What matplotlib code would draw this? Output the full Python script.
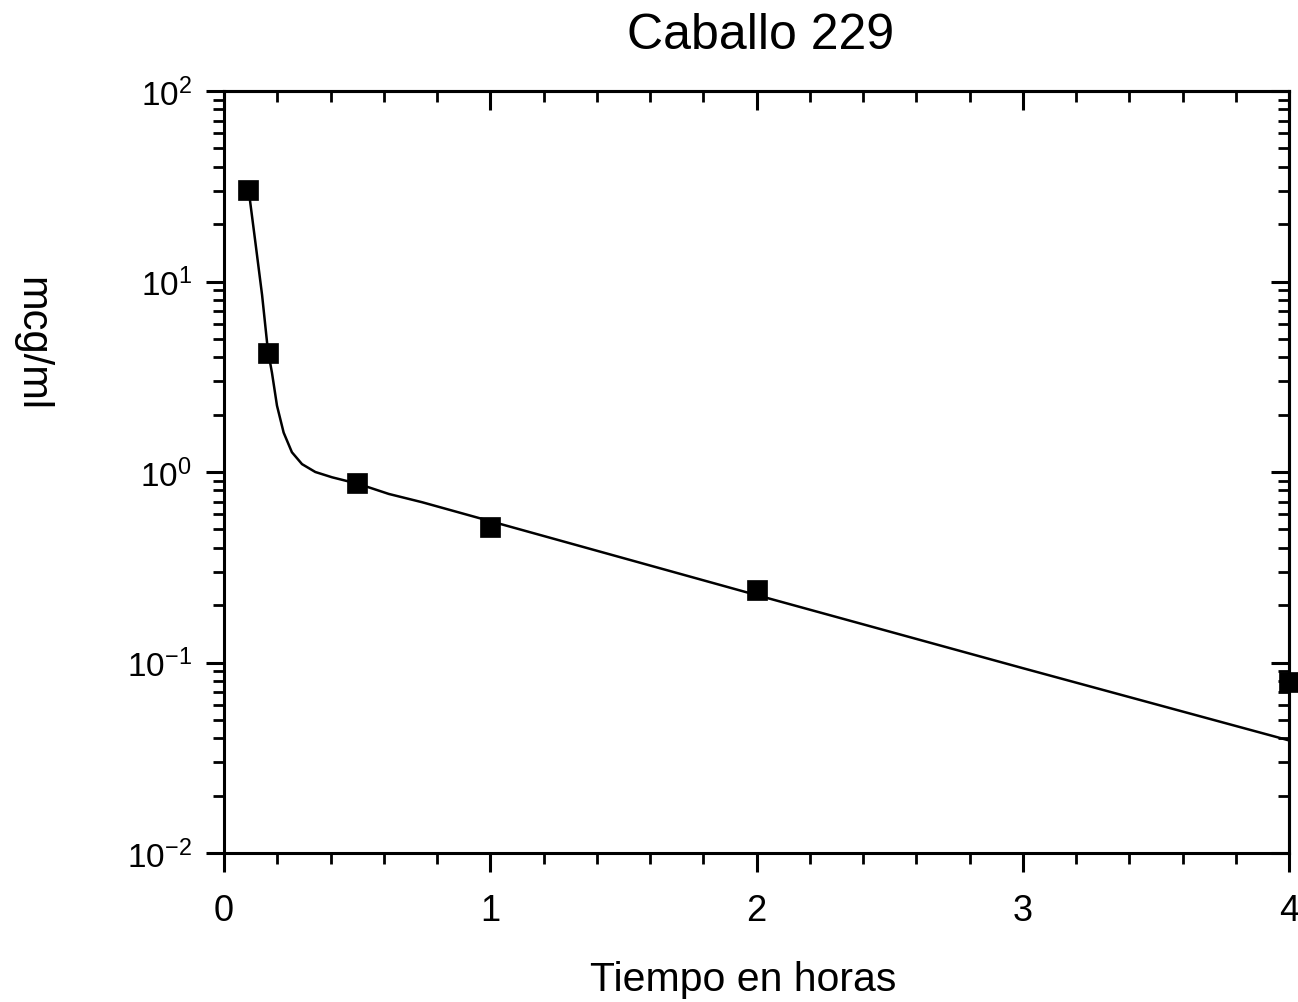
import matplotlib
matplotlib.use("Agg")
import matplotlib.pyplot as plt
from matplotlib.ticker import LogLocator, MultipleLocator, LogFormatterSciNotation, NullFormatter

# Observed concentrations (mcg/ml) vs time (hours)
time_obs = [0.09, 0.167, 0.5, 1.0, 2.0, 4.0]
conc_obs = [30.3, 4.2, 0.874, 0.513, 0.240, 0.0788]

# Fitted curve
time_fit = [0.093, 0.118, 0.143, 0.165, 0.180, 0.199, 0.224, 0.255, 0.293,
            0.343, 0.406, 0.506, 0.619, 0.744, 1.0, 2.0, 3.0, 4.0]
conc_fit = [29.9, 16.0, 8.5, 4.33, 3.33, 2.23, 1.61, 1.27, 1.10,
            1.00, 0.938, 0.865, 0.767, 0.694, 0.552, 0.226, 0.0934, 0.039]

x_ticks = [0, 1, 2, 3, 4]
title = "Caballo 229"
xlabel = "Tiempo en horas"
ylabel = "mcg/ml"

plt.rcParams['font.family'] = ['Liberation Sans', 'DejaVu Sans']
plt.rcParams['mathtext.fontset'] = 'custom'
plt.rcParams['mathtext.rm'] = 'Liberation Sans'
plt.rcParams['mathtext.it'] = 'Liberation Sans:italic'
plt.rcParams['mathtext.bf'] = 'Liberation Sans:bold'

W, H = 1298, 1003
fig = plt.figure(figsize=(W / 100, H / 100), dpi=100)
x0, x1, ytop, ybot = 224, 1289, 92, 854
ax = fig.add_axes([x0 / W, 1 - ybot / H, (x1 - x0) / W, (ybot - ytop) / H])

ax.plot(time_fit, conc_fit, color='black', lw=1.8, zorder=3)
ax.plot(time_obs, conc_obs, linestyle='none', marker='s', markersize=14,
        color='black', markeredgewidth=0.5, clip_on=False, zorder=5)

ax.set_yscale('log')
ax.set_xlim(0, 4)
ax.set_ylim(1e-2, 1e2)

ax.xaxis.set_major_locator(MultipleLocator(1))
ax.xaxis.set_minor_locator(MultipleLocator(0.2))
ax.set_xticks(x_ticks)
ax.set_xticklabels([str(v) for v in x_ticks])
ax.yaxis.set_major_locator(LogLocator(base=10, numticks=10))
ax.yaxis.set_minor_locator(LogLocator(base=10, subs=range(2, 10), numticks=20))
ax.yaxis.set_major_formatter(LogFormatterSciNotation())
ax.yaxis.set_minor_formatter(NullFormatter())

for s in ax.spines.values():
    s.set_linewidth(2.2)

# bottom/left outward, top/right inward
ax.tick_params(axis='x', which='major', bottom=True, top=False, direction='out',
               length=14, width=2.2, labelsize=26, pad=15)
ax.tick_params(axis='x', which='minor', bottom=True, top=False, direction='out',
               length=8, width=2.0)
ax.tick_params(axis='y', which='major', left=True, right=False, direction='out',
               length=13, width=2.2, labelsize=24, pad=10)
ax.tick_params(axis='y', which='minor', left=True, right=False, direction='out',
               length=8, width=2.0)

axt = ax.secondary_xaxis('top')
axt.xaxis.set_major_locator(MultipleLocator(1))
axt.xaxis.set_minor_locator(MultipleLocator(0.2))
axt.tick_params(axis='x', which='major', direction='in', length=14, width=2.2, labeltop=False)
axt.tick_params(axis='x', which='minor', direction='in', length=8, width=2.0)
axt.spines['top'].set_linewidth(2.2)

axr = ax.secondary_yaxis('right')
axr.set_yscale('log')
axr.yaxis.set_major_locator(LogLocator(base=10, numticks=10))
axr.yaxis.set_minor_locator(LogLocator(base=10, subs=range(2, 10), numticks=20))
axr.tick_params(axis='y', which='major', direction='in', length=13, width=2.2, labelright=False)
axr.tick_params(axis='y', which='minor', direction='in', length=8, width=2.0, labelright=False)
axr.spines['right'].set_linewidth(2.2)

fig.text(761 / W, 1 - 49 / H, title, ha='center', va='baseline', fontsize=36)
fig.text(743 / W, 1 - 991 / H, xlabel, ha='center', va='baseline', fontsize=29.5)
fig.text(31 / W, 1 - 344 / H, ylabel, ha='center', va='center', rotation=-90, fontsize=30)

fig.savefig('out.png', dpi=100)
